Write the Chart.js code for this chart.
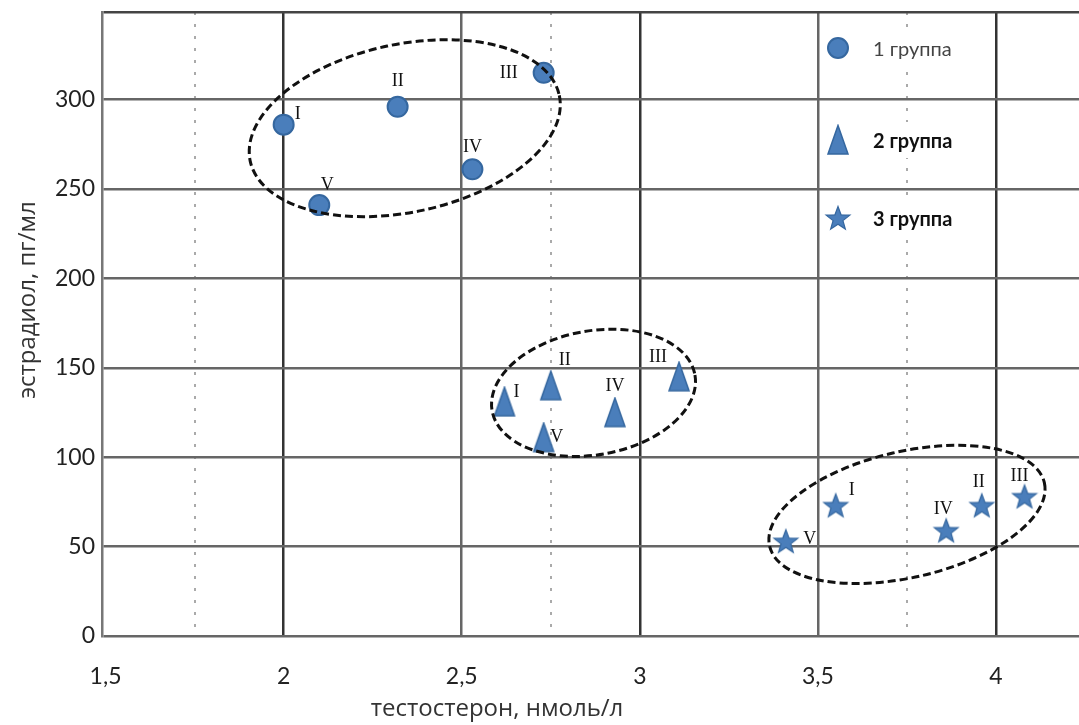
<!DOCTYPE html>
<html>
<head>
<meta charset="utf-8">
<title>Эстрадиол / тестостерон</title>
<script src="https://cdn.jsdelivr.net/npm/chart.js"></script>
<style>
    html, body { margin: 0; padding: 0; background: #fff; }
    canvas { display: block; }
</style>
</head>
<body>
<canvas id="scatterChart" width="1079" height="725"></canvas>
<script>
    // values
    const pointNames = ['I', 'II', 'III', 'IV', 'V'];
    const groupNames = ['1 группа', '2 группа', '3 группа'];
    const group1X = [2.00, 2.32, 2.73, 2.53, 2.10];
    const group1Y = [286, 296, 315, 261, 241];
    const group2X = [2.62, 2.75, 3.11, 2.93, 2.73];
    const group2Y = [131, 140, 145, 125, 111];
    const group3X = [3.55, 3.96, 4.08, 3.86, 3.41];
    const group3Y = [73, 73, 78, 59, 53];
    const xTicks = [1.5, 2, 2.5, 3, 3.5, 4];
    const xDotted = [1.75, 2.75, 3.75];
    const yTicks = [0, 50, 100, 150, 200, 250, 300];
    const xMin = 1.49, xMax = 4.233, yMin = 0, yMax = 349;
    const xTitle = 'тестостерон, нмоль/л';
    const yTitle = 'эстрадиол, пг/мл';

    // dashed ellipses round each group (centre in data units, radii in px)
    const ellipses = [
        { x: 2.34, y: 284, rx: 158, ry: 84, angle: -12 },
        { x: 2.87, y: 136, rx: 103, ry: 62, angle: -10 },
        { x: 3.75, y: 68, rx: 141, ry: 63, angle: -13 }
    ];

    // where the roman numeral sits relative to its point (px)
    const labelOffsets = [
        [[14, -10], [0, -25], [-35, 0], [0, -22], [8, -20]],
        [[12, -10], [14, -25], [-21, -19], [0, -26], [13, 0]],
        [[16, -15], [-3, -23], [-5, -20], [-3, -21], [24, -2]]
    ];

    const blue = '#4a7ebb';
    const blueDark = '#35679f';

    function makeTriangle() {
        const c = document.createElement('canvas');
        c.width = 24; c.height = 32;
        const g = c.getContext('2d');
        g.beginPath();
        g.moveTo(12, 1.5);
        g.lineTo(22, 30);
        g.lineTo(2, 30);
        g.closePath();
        g.fillStyle = blue;
        g.fill();
        g.lineWidth = 1.5;
        g.strokeStyle = blueDark;
        g.stroke();
        return c;
    }

    function makeStar() {
        const c = document.createElement('canvas');
        c.width = 28; c.height = 28;
        const g = c.getContext('2d');
        g.beginPath();
        for (let i = 0; i < 10; i++) {
            const r = i % 2 === 0 ? 12.5 : 5.2;
            const a = -Math.PI / 2 + i * Math.PI / 5;
            const px = 14 + r * Math.cos(a), py = 15 + r * Math.sin(a);
            if (i === 0) g.moveTo(px, py); else g.lineTo(px, py);
        }
        g.closePath();
        g.fillStyle = blue;
        g.fill();
        g.lineWidth = 1.2;
        g.strokeStyle = blueDark;
        g.stroke();
        return c;
    }

    const triangleImg = makeTriangle();
    const starImg = makeStar();

    function toPoints(xs, ys) {
        return xs.map((v, i) => ({ x: v, y: ys[i] }));
    }

    function noPadding(s) {
        s.paddingLeft = 0;
        s.paddingRight = 0;
        s.paddingTop = 0;
        s.paddingBottom = 0;
    }

    const ellipsePlugin = {
        id: 'ellipses',
        afterDatasetsDraw(chart) {
            const ctx = chart.ctx;
            const xs = chart.scales.x, ys = chart.scales.y;
            ctx.save();
            ctx.setLineDash([8, 4]);
            ctx.lineWidth = 3;
            ctx.strokeStyle = '#111';
            ellipses.forEach(e => {
                ctx.beginPath();
                ctx.ellipse(xs.getPixelForValue(e.x), ys.getPixelForValue(e.y),
                    e.rx, e.ry, e.angle * Math.PI / 180, 0, Math.PI * 2);
                ctx.stroke();
            });
            ctx.restore();
        }
    };

    const pointLabelPlugin = {
        id: 'pointLabels',
        afterDatasetsDraw(chart) {
            const ctx = chart.ctx;
            ctx.save();
            ctx.font = '18px "Liberation Serif", serif';
            ctx.fillStyle = '#111';
            ctx.textAlign = 'center';
            ctx.textBaseline = 'middle';
            chart.data.datasets.forEach((ds, di) => {
                chart.getDatasetMeta(di).data.forEach((el, i) => {
                    const off = labelOffsets[di][i];
                    ctx.fillText(pointNames[i], el.x + off[0], el.y + off[1]);
                });
            });
            ctx.restore();
        }
    };

    // axis titles, placed like in the original (x title sits left of centre)
    const titlesPlugin = {
        id: 'axisTitles',
        afterDraw(chart) {
            const ctx = chart.ctx;
            ctx.save();
            ctx.fillStyle = '#333';
            ctx.font = '24px "Open Sans", sans-serif';
            ctx.textAlign = 'center';
            ctx.textBaseline = 'middle';
            ctx.fillText(xTitle, 497, 709);
            ctx.translate(28, 300);
            ctx.rotate(-Math.PI / 2);
            ctx.fillText(yTitle, 0, 0);
            ctx.restore();
        }
    };

    const legendPlugin = {
        id: 'insideLegend',
        afterDraw(chart) {
            const ctx = chart.ctx;
            const rows = [48, 140, 218];
            ctx.save();
            chart.data.datasets.forEach((ds, i) => {
                const y = rows[i];
                ctx.fillStyle = '#fff';
                ctx.fillRect(862, y - 18, 130, 36);
                if (ds.pointStyle === 'circle') {
                    ctx.fillStyle = ds.backgroundColor;
                    ctx.strokeStyle = ds.borderColor;
                    ctx.beginPath();
                    ctx.arc(838, y, ds.pointRadius, 0, Math.PI * 2);
                    ctx.fill();
                    ctx.lineWidth = ds.borderWidth;
                    ctx.stroke();
                } else {
                    Chart.helpers.drawPoint(ctx, {
                        pointStyle: ds.pointStyle,
                        radius: ds.pointRadius,
                        borderWidth: ds.borderWidth
                    }, 838, y);
                }
                ctx.fillStyle = i === 0 ? '#444' : '#111';
                ctx.font = (i === 0 ? '' : 'bold ') + '20px Lato, sans-serif';
                ctx.textAlign = 'left';
                ctx.textBaseline = 'middle';
                ctx.fillText(ds.label, 873, y + 2);
            });
            ctx.restore();
        }
    };

    const commonDs = {
        backgroundColor: blue,
        borderColor: blueDark,
        borderWidth: 2,
        pointHoverRadius: 10
    };

    new Chart(document.getElementById('scatterChart').getContext('2d'), {
        type: 'scatter',
        data: {
            datasets: [
                Object.assign({}, commonDs, {
                    label: groupNames[0], data: toPoints(group1X, group1Y),
                    pointStyle: 'circle', pointRadius: 10
                }),
                Object.assign({}, commonDs, {
                    label: groupNames[1], data: toPoints(group2X, group2Y),
                    pointStyle: triangleImg, pointRadius: 12
                }),
                Object.assign({}, commonDs, {
                    label: groupNames[2], data: toPoints(group3X, group3Y),
                    pointStyle: starImg, pointRadius: 12
                })
            ]
        },
        options: {
            responsive: false,
            animation: false,
            layout: { autoPadding: false, padding: { top: 12, right: 0, left: 0, bottom: 0 } },
            plugins: {
                legend: { display: false },
                tooltip: { enabled: false }
            },
            scales: {
                x: {
                    type: 'linear',
                    min: xMin,
                    max: xMax,
                    afterBuildTicks: s => {
                        s.ticks = xTicks.concat(xDotted).sort((a, b) => a - b).map(v => ({ value: v }));
                    },
                    afterFit: s => { s.height = 89; noPadding(s); },
                    ticks: {
                        padding: 27,
                        autoSkip: false,
                        maxRotation: 0,
                        color: '#222',
                        font: { family: 'Lato', size: 23 },
                        callback: v => xTicks.includes(v) ? String(v).replace('.', ',') : ''
                    },
                    grid: {
                        drawTicks: false,
                        color: c => {
                            const v = c.tick ? c.tick.value : null;
                            if (v === 1.5) return 'rgba(0,0,0,0)';
                            if (xDotted.includes(v)) return '#aaa';
                            return (v === 2 || v === 3 || v === 4) ? '#333' : '#666';
                        },
                        lineWidth: c => (c.tick && xDotted.includes(c.tick.value)) ? 2 : 2.5
                    },
                    border: {
                        display: false,
                        dash: c => (c.tick && xDotted.includes(c.tick.value)) ? [3, 9] : []
                    }
                },
                y: {
                    min: yMin,
                    max: yMax,
                    afterBuildTicks: s => {
                        s.ticks = yTicks.concat([yMax]).map(v => ({ value: v }));
                    },
                    afterFit: s => { s.width = 102; noPadding(s); },
                    ticks: {
                        padding: 7,
                        color: '#222',
                        font: { family: 'Lato', size: 23 },
                        callback: v => yTicks.includes(v) ? String(v) : ''
                    },
                    grid: {
                        drawTicks: false,
                        color: c => (c.tick && c.tick.value === yMax) ? '#444' : '#666',
                        lineWidth: 2.5
                    },
                    border: { display: true, color: '#777', width: 2.5 }
                }
            }
        },
        plugins: [ellipsePlugin, pointLabelPlugin, titlesPlugin, legendPlugin]
    });
</script>
</body>
</html>
